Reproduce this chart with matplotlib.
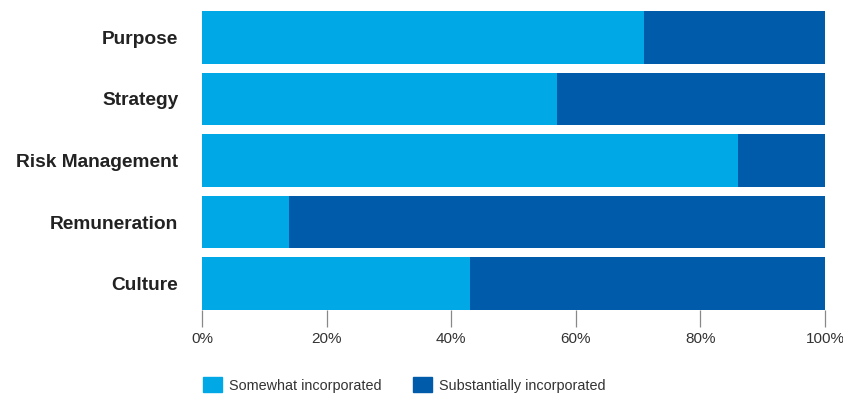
import matplotlib.pyplot as plt
from matplotlib.patches import Patch

plt.rcParams['font.family'] = ['Liberation Sans', 'DejaVu Sans']

categories = ['Purpose', 'Strategy', 'Risk Management', 'Remuneration', 'Culture']
somewhat = [71, 57, 86, 14, 43]
substantially = [29, 43, 14, 86, 57]
series_names = ['Somewhat incorporated', 'Substantially incorporated']
x_ticks = [0, 20, 40, 60, 80, 100]

light = '#00A9E6'
dark = '#005BAA'

fig = plt.figure(figsize=(8.43, 3.94), dpi=100)
ax = fig.add_axes([202 / 843, 1 - 310 / 394, 623 / 843, 299 / 394])

y = list(range(len(categories)))
ax.barh(y, somewhat, height=0.86, color=light)
ax.barh(y, substantially, left=somewhat, height=0.86, color=dark)

ax.set_ylim(len(categories) - 1 + 0.43, -0.43)
ax.set_xlim(0, 100)

for s in ax.spines.values():
    s.set_visible(False)

ax.set_xticks(x_ticks)
ax.set_xticklabels([f'{t}%' for t in x_ticks])
ax.tick_params(axis='x', length=12, width=0.9, color='#888888', pad=4,
               labelsize=11, labelcolor='#333333')
ax.set_yticks(y)
ax.set_yticklabels(categories, fontweight='bold', fontsize=13.8, color='#222222')
ax.tick_params(axis='y', length=0, pad=17)

handles = [Patch(color=light), Patch(color=dark)]
fig.legend(handles, series_names, loc='center left', ncol=2, frameon=False,
           bbox_to_anchor=(190 / 843, 1 - 385 / 394), fontsize=10.4,
           handlelength=1.32, handleheight=1.2, handletextpad=0.48,
           columnspacing=2.2, labelcolor='#333333')

fig.savefig('out.png', dpi=100)
